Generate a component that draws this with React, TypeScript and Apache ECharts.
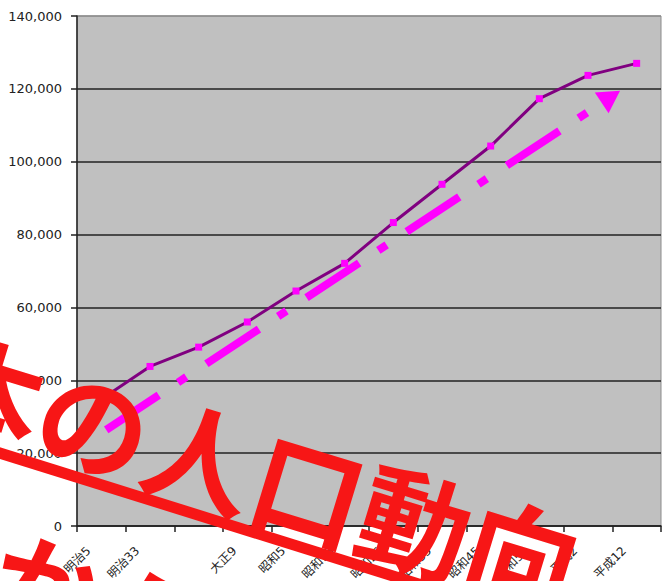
import React, { useEffect, useRef } from "react";
import * as echarts from "echarts";

const categories = ["明治5", "明治33", "", "大正9", "昭和5", "昭和15", "昭和25", "昭和35", "昭和45", "昭和55", "平成2", "平成12"];
const population = [34800, 43800, 49100, 56000, 64500, 72100, 83300, 93800, 104300, 117300, 123700, 127000];
const trendX = [0.1, 10.47];
const trendY = [26400, 117800];
const yTicks = [0, 20000, 40000, 60000, 80000, 100000, 120000, 140000];
const titleLine1 = "日本の人口動向";
const titleLine2 = "明治から平成へ";

export default function App() {
  const ref = useRef<HTMLDivElement>(null);
  useEffect(() => {
    if (!ref.current) return;
    const chart = echarts.init(ref.current, null, { renderer: "svg" });
    const rot = (-17 * Math.PI) / 180;
    const red = "#f71616";
    const font = "DejaVu Sans, 'Noto Sans CJK JP', sans-serif";
    chart.setOption({
      animation: false,
      grid: {
        left: 77,
        right: 3,
        top: 16,
        bottom: 55,
        containLabel: false,
        outerBoundsMode: "none",
        show: true,
        backgroundColor: "#c0c0c0",
        borderColor: "#8c8c8c",
        borderWidth: 1,
      },
      xAxis: [
        {
          type: "category",
          data: categories,
          boundaryGap: true,
          axisLine: { onZero: false, lineStyle: { color: "#222", width: 1.5 } },
          axisTick: { show: true, interval: 0, length: 6, lineStyle: { color: "#222", width: 1.5 } },
          axisLabel: {
            interval: 0,
            rotate: 45,
            margin: 10,
            padding: [0, 18, 0, 0],
            color: "#222",
            fontSize: 12,
            fontFamily: font,
          },
          splitLine: { show: false },
        },
        { type: "value", min: -0.5, max: 11.5, show: false },
      ],
      yAxis: {
        type: "value",
        min: yTicks[0],
        max: yTicks[yTicks.length - 1],
        interval: 20000,
        axisLine: { show: true, onZero: false, lineStyle: { color: "#222", width: 1.5 } },
        axisTick: { show: true, length: 6, lineStyle: { color: "#222", width: 1.5 } },
        axisLabel: {
          margin: 15,
          color: "#222",
          fontSize: 13,
          fontFamily: font,
          formatter: (v: number) => v.toLocaleString("en-US"),
        },
        splitLine: {
          show: true,
          lineStyle: {
            color: ["#222", "#222", "#222", "#222", "#222", "#222", "#222", "#8c8c8c"],
            width: 1.5,
          },
        },
      },
      series: [
        {
          type: "line",
          data: population,
          xAxisIndex: 0,
          symbol: "rect",
          symbolSize: 7,
          showSymbol: true,
          lineStyle: { color: "#800080", width: 3 },
          itemStyle: { color: "#ff00ff" },
          z: 3,
        },
        {
          type: "line",
          xAxisIndex: 1,
          data: [
            { value: [trendX[0], trendY[0]], symbol: "none" },
            { value: [trendX[1], trendY[1]], symbol: "triangle", symbolSize: [25, 22], symbolRotate: -56.6 },
          ],
          showSymbol: true,
          lineStyle: { color: "#ff00ff", width: 8, type: [63, 23, 10, 24], cap: "butt" },
          itemStyle: { color: "#ff00ff" },
          z: 2,
        },
      ],
      graphic: [
        {
          type: "text",
          x: -172,
          y: 338,
          rotation: rot,
          z: 100,
          style: {
            text: titleLine1,
            font: "bold 112px 'Noto Sans CJK JP'",
            fill: red,
            align: "left",
            verticalAlign: "middle",
          },
        },
        {
          type: "text",
          x: -219,
          y: 502,
          rotation: rot,
          z: 100,
          style: {
            text: titleLine2,
            font: "bold 112px 'Noto Sans CJK JP'",
            fill: red,
            align: "left",
            verticalAlign: "middle",
          },
        },
        {
          type: "line",
          z: 100,
          shape: { x1: -10, y1: 450, x2: 700, y2: 672 },
          style: { stroke: red, lineWidth: 11 },
        },
      ],
    });
    return () => chart.dispose();
  }, []);
  return <div ref={ref} style={{ width: 664, height: 581, position: "absolute", left: 0, top: 0 }} />;
}
